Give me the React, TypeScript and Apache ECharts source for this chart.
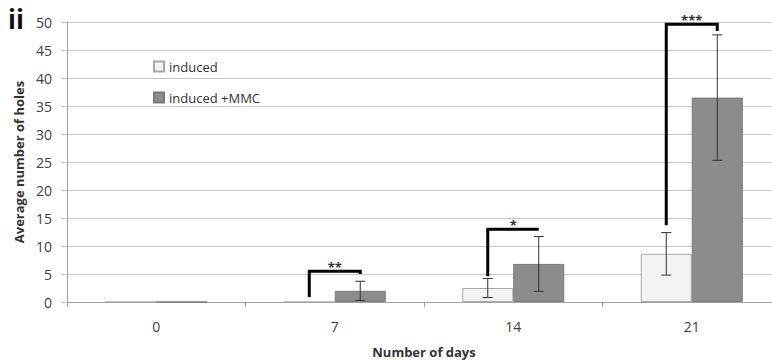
import React, { useEffect, useRef } from "react";
import * as echarts from "echarts";

const categories = ["0", "7", "14", "21"];
const inducedValues = [0, 0, 2.5, 8.6];
const inducedErrors = [0, 0, 1.7, 3.8];
const mmcValues = [0, 2.0, 6.8, 36.5];
const mmcErrors = [0, 1.7, 4.9, 11.2];
// significance brackets: category index, low end, top, right hook end
const bracketCats = [1, 2, 3];
const bracketLow = [0.9, 4.6, 13.7];
const bracketHigh = [5.5, 13.0, 49.6];
const bracketHook = [5.0, 13.0, 48.4];
const bracketStars = ["**", "*", "***"];
const yTicks = { min: 0, max: 50, interval: 5 };

const BAR_W = 51;
const HALF = BAR_W / 2;
const FONT = "'Open Sans', 'Liberation Sans', sans-serif";

export default function App() {
  const ref = useRef<HTMLDivElement>(null);
  useEffect(() => {
    document.body.style.margin = "0";
    if (!ref.current) return;
    const chart = echarts.init(ref.current, undefined, { renderer: "svg" });

    const errData: number[][] = [];
    categories.forEach((_, i) => {
      errData.push([i, inducedValues[i], inducedErrors[i], -1]);
      errData.push([i, mmcValues[i], mmcErrors[i], 1]);
    });
    const brData = bracketCats.map((c, i) => [c, bracketLow[i], bracketHigh[i], bracketHook[i]]);

    chart.setOption({
      animation: false,
      textStyle: { fontFamily: FONT },
      grid: { left: 67, top: 22, height: 280, width: 714, containLabel: false, outerBoundsMode: "none" },
      legend: {
        data: ["induced", "induced +MMC"],
        orient: "vertical",
        left: 148,
        top: 55,
        icon: "rect",
        itemWidth: 10,
        itemHeight: 10,
        itemGap: 18,
        textStyle: { fontSize: 13, color: "#333", fontFamily: FONT },
      },
      graphic: [
        {
          type: "text",
          left: 8,
          top: 6,
          style: { text: "ii", font: `bold 26px ${FONT}`, fill: "#111" },
        },
      ],
      xAxis: {
        type: "category",
        data: categories,
        name: "Number of days",
        nameLocation: "middle",
        nameGap: 43,
        nameTextStyle: { fontSize: 13, fontWeight: "bold", color: "#333", fontFamily: FONT },
        axisLine: { lineStyle: { color: "#a0a0a0" } },
        axisTick: { show: true, length: 5, lineStyle: { color: "#a0a0a0" } },
        axisLabel: { fontSize: 14, color: "#404040", margin: 17, fontFamily: FONT },
      },
      yAxis: {
        type: "value",
        min: yTicks.min,
        max: yTicks.max,
        interval: yTicks.interval,
        name: "Average number of holes",
        nameLocation: "middle",
        nameGap: 42,
        nameTextStyle: { fontSize: 13, fontWeight: "bold", color: "#333", fontFamily: FONT },
        axisLine: { show: true, lineStyle: { color: "#a0a0a0" } },
        axisTick: { show: true, length: 6, lineStyle: { color: "#c0c0c0" } },
        axisLabel: { fontSize: 14, color: "#404040", margin: 15, fontFamily: FONT },
        splitLine: { lineStyle: { color: "#c9c6c3" } },
      },
      series: [
        {
          name: "induced",
          type: "bar",
          data: inducedValues,
          barWidth: BAR_W,
          barGap: "0%",
          itemStyle: { color: "#f3f3f3", borderColor: "#a8a8a8", borderWidth: 1 },
        },
        {
          name: "induced +MMC",
          type: "bar",
          data: mmcValues,
          barWidth: BAR_W,
          barGap: "0%",
          itemStyle: { color: "#8c8c8c", borderColor: "#7a7a7a", borderWidth: 1 },
        },
        {
          name: "err",
          type: "custom",
          data: errData,
          encode: { x: 0, y: 1 },
          z: 5,
          renderItem: (params: any, api: any) => {
            const cat = api.value(0);
            const v = api.value(1);
            const e = api.value(2);
            const side = api.value(3);
            if (!e) return null;
            const x = api.coord([cat, v])[0] + side * HALF;
            const yT = api.coord([cat, v + e])[1];
            const yB = api.coord([cat, Math.max(0, v - e)])[1];
            const st = { stroke: "#333", lineWidth: 1 };
            return {
              type: "group",
              children: [
                { type: "line", shape: { x1: x, y1: yT, x2: x, y2: yB }, style: st },
                { type: "line", shape: { x1: x - 5, y1: yT, x2: x + 5, y2: yT }, style: st },
                { type: "line", shape: { x1: x - 5, y1: yB, x2: x + 5, y2: yB }, style: st },
              ],
            };
          },
        },
        {
          name: "sig",
          type: "custom",
          data: brData,
          encode: { x: 0, y: 2 },
          z: 6,
          renderItem: (params: any, api: any) => {
            const cat = api.value(0);
            const lo = api.value(1);
            const hi = api.value(2);
            const hk = api.value(3);
            const cx = api.coord([cat, hi])[0];
            const xl = cx - HALF;
            const xr = cx + HALF;
            const yLo = api.coord([cat, lo])[1];
            const yHi = api.coord([cat, hi])[1];
            const yHk = api.coord([cat, hk])[1];
            return {
              type: "group",
              children: [
                {
                  type: "polyline",
                  shape: { points: [[xl, yLo], [xl, yHi], [xr, yHi], [xr, yHk]] },
                  style: { stroke: "#000", lineWidth: 3, fill: "none", lineJoin: "miter" },
                },
                {
                  type: "text",
                  style: {
                    text: bracketStars[params.dataIndex],
                    x: cx,
                    y: yHi + 2,
                    align: "center",
                    verticalAlign: "bottom",
                    font: `bold 13px ${FONT}`,
                    fill: "#333",
                  },
                },
              ],
            };
          },
        },
      ],
    });
    return () => chart.dispose();
  }, []);
  return <div ref={ref} style={{ width: 772, height: 360 }} />;
}
